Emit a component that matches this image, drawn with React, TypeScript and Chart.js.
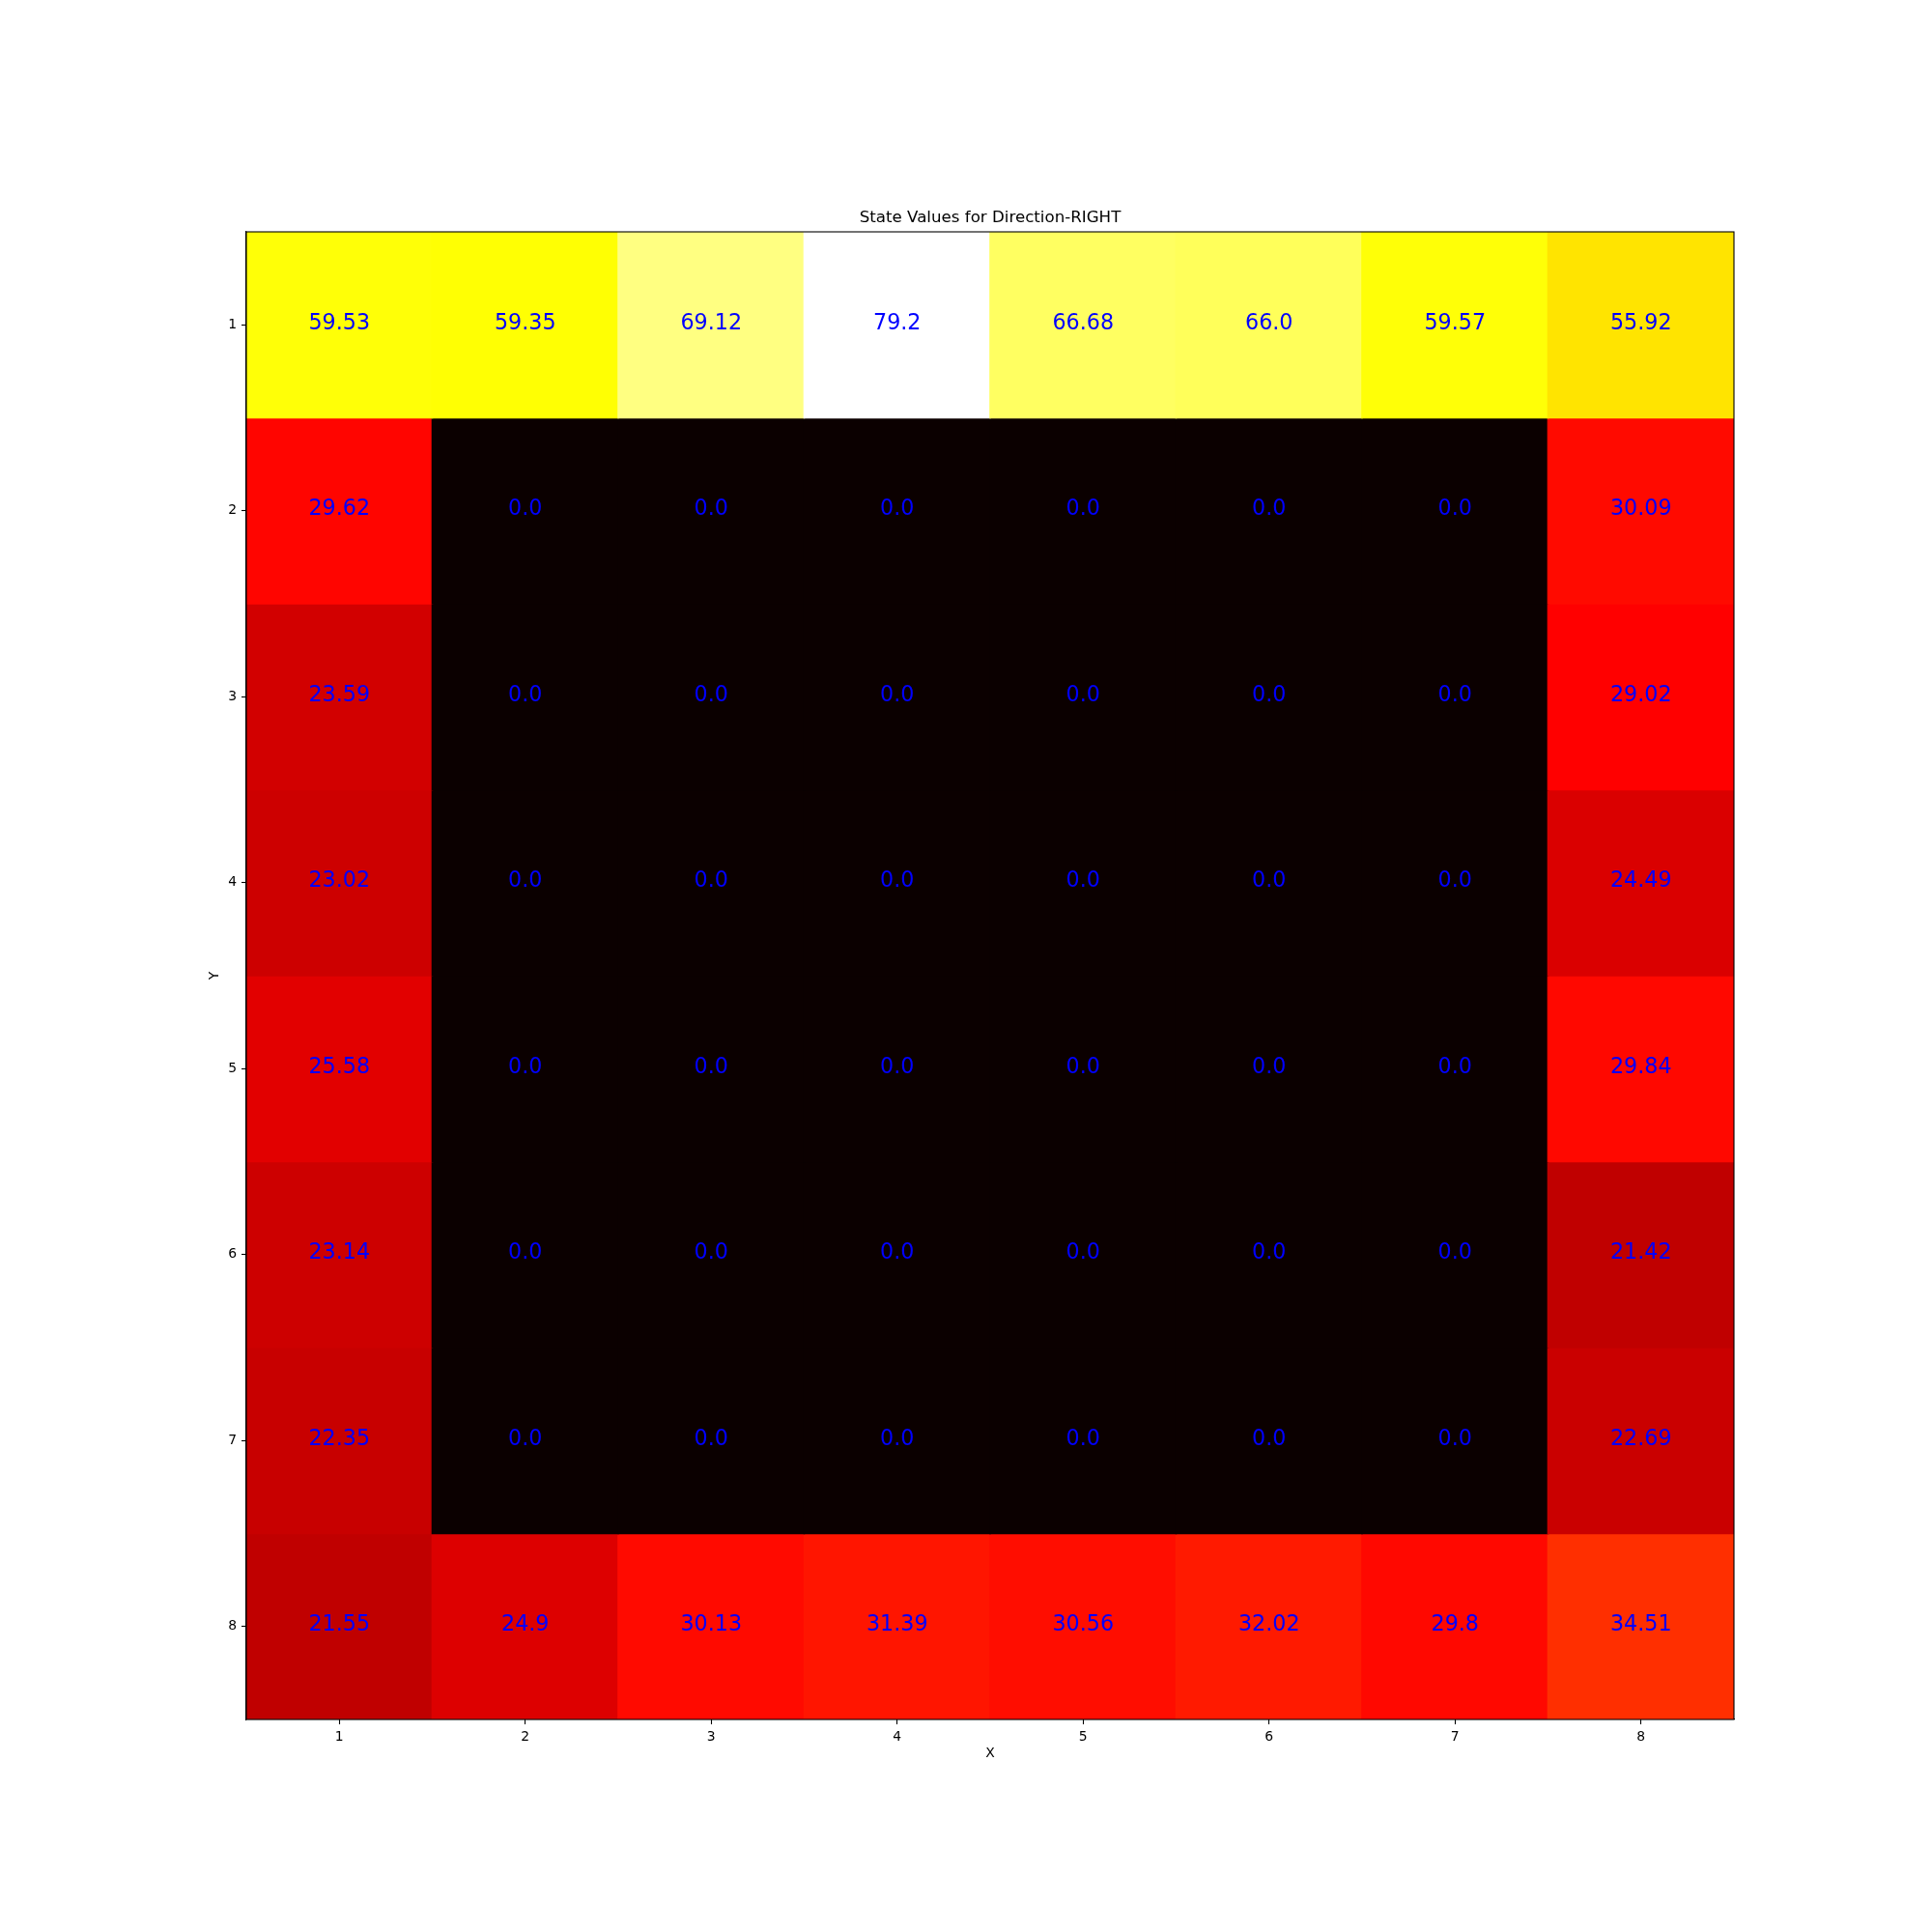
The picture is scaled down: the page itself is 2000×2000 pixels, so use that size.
import React, { useEffect, useRef } from "react";
import { Chart, registerables } from "chart.js";

Chart.register(...registerables);

const xLabels = ["1", "2", "3", "4", "5", "6", "7", "8"];
const yTicks = [1, 2, 3, 4, 5, 6, 7, 8];

const row1 = [59.53, 59.35, 69.12, 79.2, 66.68, 66.0, 59.57, 55.92];
const row2 = [29.62, 0, 0, 0, 0, 0, 0, 30.09];
const row3 = [23.59, 0, 0, 0, 0, 0, 0, 29.02];
const row4 = [23.02, 0, 0, 0, 0, 0, 0, 24.49];
const row5 = [25.58, 0, 0, 0, 0, 0, 0, 29.84];
const row6 = [23.14, 0, 0, 0, 0, 0, 0, 21.42];
const row7 = [22.35, 0, 0, 0, 0, 0, 0, 22.69];
const row8 = [21.55, 24.9, 30.13, 31.39, 30.56, 32.02, 29.8, 34.51];

const rows = [row1, row2, row3, row4, row5, row6, row7, row8];

const titleText = "State Values for Direction-RIGHT";
const xTitle = "X";
const yTitle = "Y";

const FONT = "'DejaVu Sans', sans-serif";

function hot(v: number, vmin: number, vmax: number): string {
  let n = (v - vmin) / (vmax - vmin);
  if (n < 0) n = 0;
  if (n > 1) n = 1;
  let idx = Math.floor(n * 256);
  if (idx > 255) idx = 255;
  const x = idx / 255;
  const r = x < 0.365079 ? 0.0416 + (1 - 0.0416) * (x / 0.365079) : 1;
  const g = x < 0.365079 ? 0 : x < 0.746032 ? (x - 0.365079) / (0.746032 - 0.365079) : 1;
  const b = x < 0.746032 ? 0 : (x - 0.746032) / (1 - 0.746032);
  return `rgb(${Math.round(r * 255)},${Math.round(g * 255)},${Math.round(b * 255)})`;
}

function fmt(v: number): string {
  return Number.isInteger(v) ? v.toFixed(1) : String(v);
}

export default function App() {
  const ref = useRef<HTMLCanvasElement | null>(null);

  useEffect(() => {
    if (!ref.current) return;
    const all = rows.flat();
    const vmin = Math.min(...all);
    const vmax = Math.max(...all);

    const datasets = rows.map((vals, ri) => {
      const y = yTicks[ri];
      return {
        label: `row ${y}`,
        data: vals.map(() => [y - 0.5, y + 0.5]),
        backgroundColor: vals.map((v) => hot(v, vmin, vmax)),
        borderWidth: 0,
        barPercentage: 1,
        categoryPercentage: 1,
        grouped: false,
        inflateAmount: 0.8,
      };
    });

    const cellText = {
      id: "cellText",
      afterDatasetsDraw(chart: any) {
        const ctx = chart.ctx;
        const xs = chart.scales.x;
        const ys = chart.scales.y;
        ctx.save();
        ctx.font = `22.2px ${FONT}`;
        ctx.fillStyle = "rgb(0,0,255)";
        ctx.textAlign = "center";
        ctx.textBaseline = "middle";
        rows.forEach((vals, ri) => {
          vals.forEach((v, ci) => {
            const px = xs.getPixelForValue(ci);
            const py = ys.getPixelForValue(yTicks[ri]);
            ctx.fillText(fmt(v), px, py - 1.5);
          });
        });
        const a = chart.chartArea;
        ctx.strokeStyle = "#000";
        ctx.lineWidth = 1.1;
        ctx.strokeRect(a.left, a.top, a.right - a.left, a.bottom - a.top);
        ctx.restore();
      },
    };

    const chart = new Chart(ref.current, {
      type: "bar",
      data: { labels: xLabels, datasets: datasets as any },
      options: {
        animation: false,
        responsive: false,
        devicePixelRatio: 1,
        layout: { padding: { left: 0, right: 205, top: 0, bottom: 160 } },
        plugins: {
          legend: { display: false },
          tooltip: { enabled: false },
          title: {
            display: true,
            fullSize: false,
            text: titleText,
            color: "#000",
            font: { family: FONT, size: 16.67, weight: "normal" as any, lineHeight: 1.2 },
            padding: { top: 216, bottom: 4 },
          },
        },
        scales: {
          x: {
            type: "category",
            offset: true,
            grid: {
              display: true,
              offset: false,
              drawOnChartArea: false,
              drawTicks: true,
              tickLength: 5,
              tickColor: "#000",
              tickWidth: 1.1,
            },
            border: { display: true, color: "#000", width: 1.1 },
            ticks: {
              color: "#000",
              font: { family: FONT, size: 13.9 },
              padding: 5,
              maxRotation: 0,
            },
            title: {
              display: true,
              text: xTitle,
              color: "#000",
              font: { family: FONT, size: 13.9, lineHeight: 1.2 },
              padding: { top: 0, bottom: 16.7 },
            },
            afterFit: (s: any) => {
              s.height = 60;
            },
          },
          y: {
            type: "linear",
            min: 0.5,
            max: 8.5,
            reverse: true,
            afterBuildTicks: (axis: any) => {
              axis.ticks = yTicks.map((v) => ({ value: v }));
            },
            grid: {
              display: true,
              drawOnChartArea: false,
              drawTicks: true,
              tickLength: 5,
              tickColor: "#000",
              tickWidth: 1.1,
            },
            border: { display: true, color: "#000", width: 1.1 },
            ticks: {
              color: "#000",
              font: { family: FONT, size: 13.9 },
              padding: 5,
              callback: (v: any) => String(v),
            },
            title: {
              display: true,
              text: yTitle,
              color: "#000",
              font: { family: FONT, size: 13.9, lineHeight: 1.2 },
              padding: { top: 213.7, bottom: 0 },
            },
            afterFit: (s: any) => {
              s.width = 255;
            },
          },
        },
      },
      plugins: [cellText],
    });

    return () => chart.destroy();
  }, []);

  return (
    <div style={{ position: "absolute", left: 0, top: 0, width: 2000, height: 2000, background: "#fff" }}>
      <canvas ref={ref} width={2000} height={2000} style={{ width: 2000, height: 2000, display: "block" }} />
    </div>
  );
}
